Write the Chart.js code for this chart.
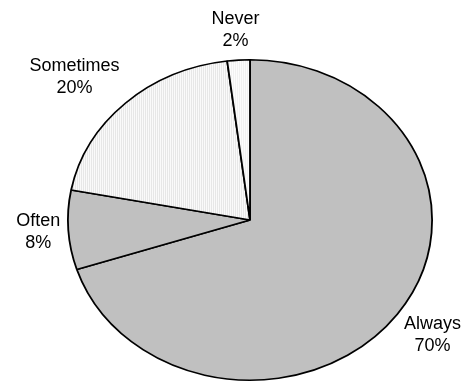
<!DOCTYPE html>
<html>
<head>
<meta charset="utf-8">
<script src="https://cdn.jsdelivr.net/npm/chart.js@4.4.0/dist/chart.umd.min.js"></script>
<style>
  html, body { margin: 0; padding: 0; background: #fff; }
  canvas { display: block; }
</style>
</head>
<body>
<canvas id="pieChart" width="472" height="383"></canvas>
<script>
const categories = ['Always', 'Often', 'Sometimes', 'Never'];
const answerShares = [70, 8, 20, 2];

// the original pie is a bit wider than tall
const stretchX = 183 / 161;

function stripes(a, b) {
    const c = document.createElement('canvas');
    c.width = 2;
    c.height = 1;
    const g = c.getContext('2d');
    g.fillStyle = a;
    g.fillRect(0, 0, 1, 1);
    g.fillStyle = b;
    g.fillRect(1, 0, 1, 1);
    const p = g.createPattern(c, 'repeat');
    // undo the horizontal stretch so the stripes stay crisp
    p.setTransform(new DOMMatrix().scale(1 / stretchX, 1));
    return p;
}

const sliceFills = ['#c0c0c0', '#c0c0c0', stripes('#ffffff', '#e2e2e2'), stripes('#ffffff', '#eeeeee')];

const stretchPlugin = {
    id: 'stretch',
    beforeDatasetsDraw(chart) {
        const arc = chart.getDatasetMeta(0).data[0];
        const ctx = chart.ctx;
        ctx.save();
        ctx.translate(arc.x, 0);
        ctx.scale(stretchX, 1);
        ctx.translate(-arc.x, 0);
    },
    afterDatasetsDraw(chart) {
        chart.ctx.restore();
    }
};

const clamp = v => Math.max(-1, Math.min(1, v));

// labels sit just outside the rim, the text box pushed away from the pie
const labelPlugin = {
    id: 'sliceLabels',
    afterDraw(chart) {
        const ctx = chart.ctx;
        const values = chart.data.datasets[0].data;
        const total = values.reduce((s, v) => s + v, 0);
        const lineH = 22;
        const gap = 8;
        ctx.save();
        ctx.font = '18px "Liberation Sans", Arial, sans-serif';
        ctx.fillStyle = '#000';
        ctx.textAlign = 'center';
        ctx.textBaseline = 'middle';
        chart.getDatasetMeta(0).data.forEach((arc, i) => {
            const mid = (arc.startAngle + arc.endAngle) / 2;
            const rx = arc.outerRadius * stretchX;
            const ry = arc.outerRadius;
            const ex = arc.x + Math.cos(mid) * rx;
            const ey = arc.y + Math.sin(mid) * ry;
            let ux = ex - arc.x, uy = ey - arc.y;
            const len = Math.hypot(ux, uy);
            ux /= len; uy /= len;
            const line1 = chart.data.labels[i];
            const line2 = Math.round(values[i] / total * 100) + '%';
            const w = Math.max(ctx.measureText(line1).width, ctx.measureText(line2).width);
            const h = lineH * 2;
            const cx = ex + ux * gap + clamp(ux * 1.4) * w / 2;
            const cy = ey + uy * gap + clamp(uy * 1.4) * h / 2;
            ctx.fillText(line1, cx, cy - lineH / 2);
            ctx.fillText(line2, cx, cy + lineH / 2);
        });
        ctx.restore();
    }
};

new Chart(document.getElementById('pieChart'), {
    type: 'pie',
    data: {
        labels: categories,
        datasets: [{
            data: answerShares,
            backgroundColor: sliceFills,
            borderColor: '#000',
            borderWidth: 1.6,
            hoverOffset: 0
        }]
    },
    options: {
        responsive: false,
        animation: false,
        layout: { padding: { left: 89, right: 61, top: 59, bottom: 2 } },
        plugins: {
            legend: { display: false },
            tooltip: { enabled: false }
        }
    },
    plugins: [stretchPlugin, labelPlugin]
});
</script>
</body>
</html>
